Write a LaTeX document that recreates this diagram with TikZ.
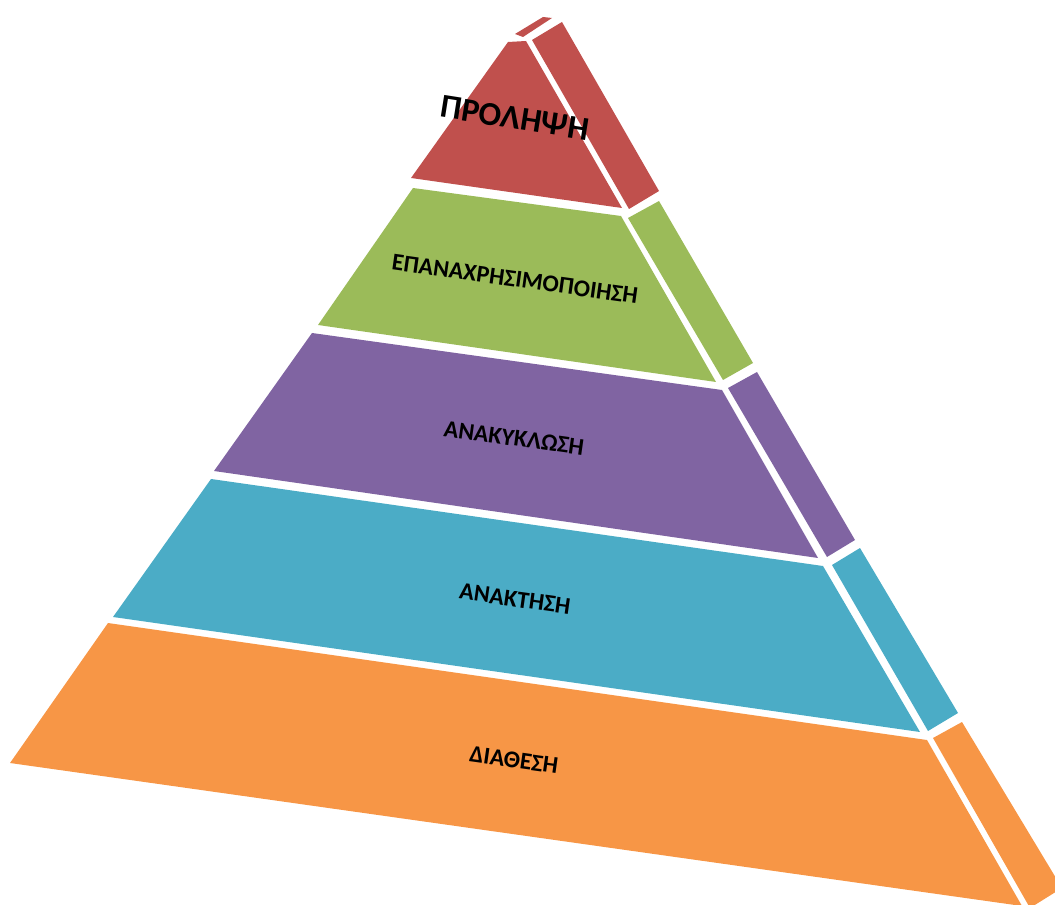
\documentclass[tikz,border=0pt]{standalone}
\usepackage{fontspec}
\setmainfont{Carlito}
\definecolor{cred}{HTML}{C0504D}
\definecolor{cgreen}{HTML}{9BBB59}
\definecolor{cpurple}{HTML}{8064A2}
\definecolor{ccyan}{HTML}{4BACC6}
\definecolor{corange}{HTML}{F79646}
\tikzset{
  lbl/.style={font=\bfseries\fontsize{13.7}{16}\selectfont, text=black, rotate=-8, inner sep=0pt},
  toplbl/.style={font=\bfseries\fontsize{19}{22}\selectfont, text=black, rotate=-9, inner sep=0pt}
}
\begin{document}
\begin{tikzpicture}[x=0.02cm,y=-0.02cm]
\useasboundingbox (0,0) rectangle (1055,905);
% red layer
\fill[cred] (508,42) -- (526,41) -- (622,208) -- (411,178) -- cycle;
\fill[cred] (532,40) -- (562,22) -- (659,191) -- (629,209) -- cycle;
\fill[cred] (515,34) -- (543,17) -- (552,18) -- (523,37) -- cycle;
% green layer
\fill[cgreen] (413,188) -- (621,216) -- (716,382) -- (318,325) -- cycle;
\fill[cgreen] (628,218) -- (659,201) -- (753,363) -- (723,380) -- cycle;
% purple layer
\fill[cpurple] (312,333) -- (722,390) -- (818,558) -- (214,471) -- cycle;
\fill[cpurple] (728,388) -- (757,372) -- (855,540) -- (827,557) -- cycle;
% cyan layer
\fill[ccyan] (211,479) -- (823,566) -- (920,732) -- (113,617) -- cycle;
\fill[ccyan] (832,565) -- (860,548) -- (958,713) -- (928,731) -- cycle;
% orange layer
\fill[corange] (108,623) -- (927,740) -- (1022,906) -- (10,763) -- cycle;
\fill[corange] (933,738) -- (962,722) -- (1062,888) -- (1030,908) -- cycle;
% labels
\node[toplbl] (t1) at (515,118) {ΠΡΟΛΗΨΗ};
\node[lbl] (t2) at (515,279) {ΕΠΑΝΑΧΡΗΣΙΜΟΠΟΙΗΣΗ};
\node[lbl] (t3) at (514,438) {ΑΝΑΚΥΚΛΩΣΗ};
\node[lbl] (t4) at (515,599) {ΑΝΑΚΤΗΣΗ};
\node[lbl] (t5) at (514,760) {ΔΙΑΘΕΣΗ};
\end{tikzpicture}
\end{document}
